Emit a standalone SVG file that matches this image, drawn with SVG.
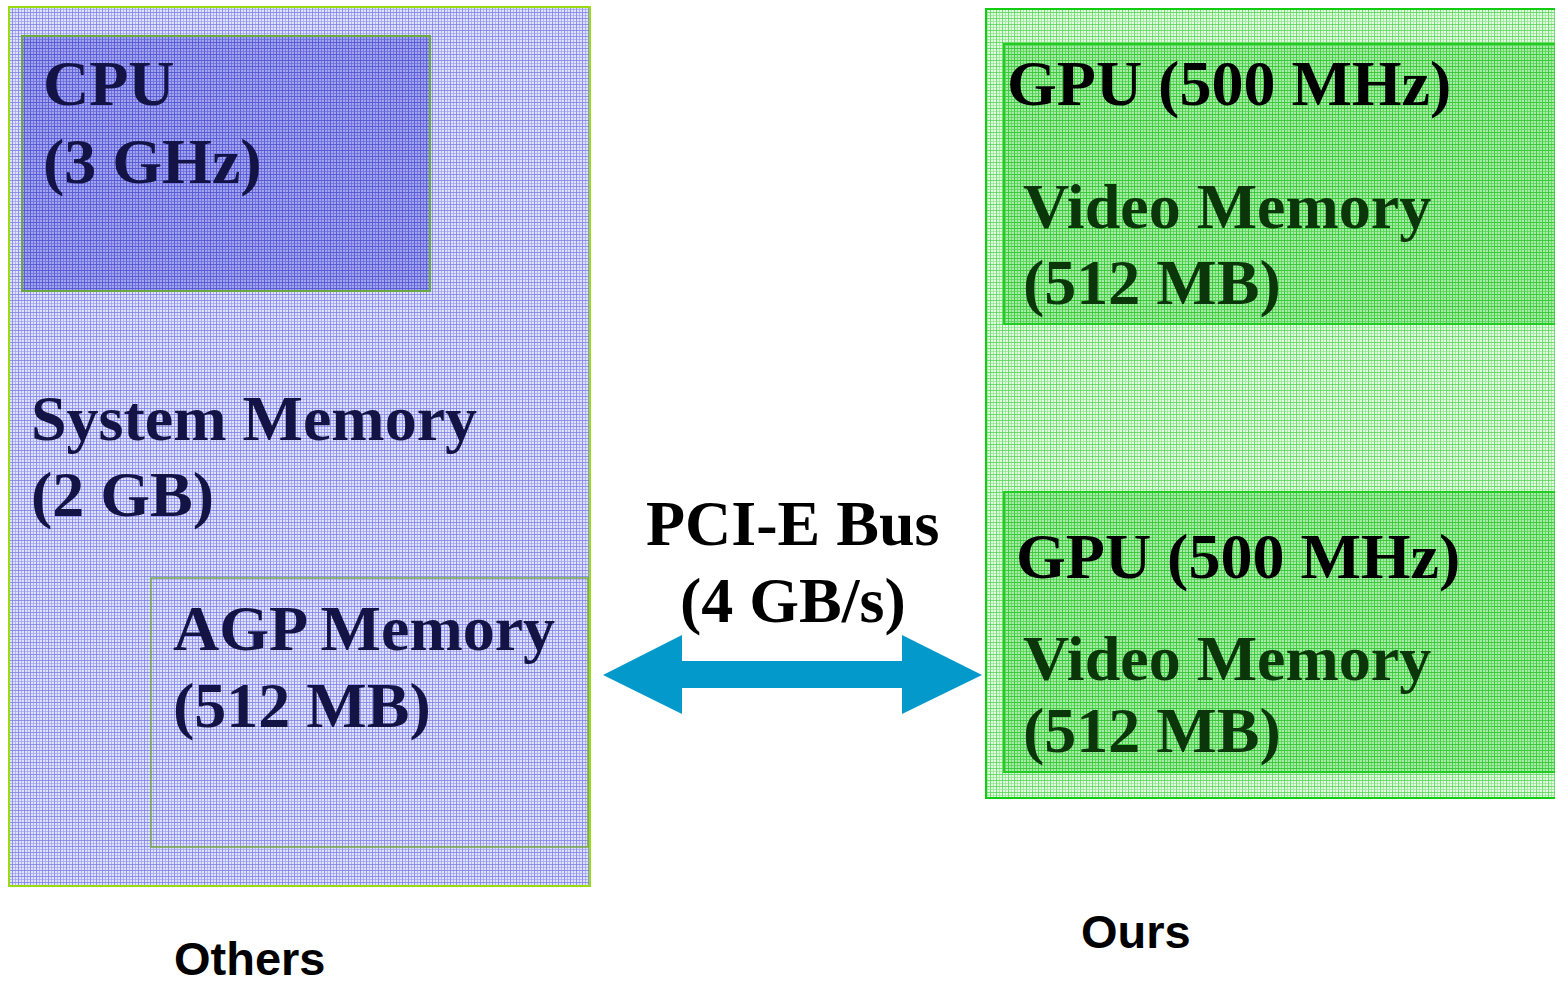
<svg xmlns="http://www.w3.org/2000/svg" width="1555" height="982" viewBox="0 0 1555 982">
  <style>
    .serif { font-family: "Liberation Serif", "Times New Roman", serif; font-weight: bold; font-size: 64px; }
    .sans { font-family: "Liberation Sans", Arial, sans-serif; font-weight: bold; font-size: 47px; fill: #000; }
    .navy { fill: #131345; }
    .dkgreen { fill: #0a360a; }
    .black { fill: #000; }
  </style>
  <defs>
    <!-- woven plaid fills -->
    <pattern id="blueLight" width="6" height="6" patternUnits="userSpaceOnUse">
      <rect width="6" height="6" fill="#e0e1fa"/>
      <rect x="0" y="0" width="1" height="6" fill="#7a7ee6" opacity="0.8"/>
      <rect x="3" y="0" width="1" height="6" fill="#9598ed" opacity="0.6"/>
      <rect x="0" y="0" width="6" height="1" fill="#7a7ee6" opacity="0.8"/>
      <rect x="0" y="3" width="6" height="1" fill="#9598ed" opacity="0.6"/>
    </pattern>
    <pattern id="blueDark" width="6" height="6" patternUnits="userSpaceOnUse">
      <rect width="6" height="6" fill="#a2a5ee"/>
      <rect x="0" y="0" width="1" height="6" fill="#5256d4" opacity="0.9"/>
      <rect x="3" y="0" width="1" height="6" fill="#686bdb" opacity="0.75"/>
      <rect x="0" y="0" width="6" height="1" fill="#5256d4" opacity="0.9"/>
      <rect x="0" y="3" width="6" height="1" fill="#686bdb" opacity="0.75"/>
    </pattern>
    <pattern id="greenLight" width="6" height="6" patternUnits="userSpaceOnUse">
      <rect width="6" height="6" fill="#e2f9e2"/>
      <rect x="0" y="0" width="1" height="6" fill="#55d655" opacity="0.8"/>
      <rect x="3" y="0" width="1" height="6" fill="#82e282" opacity="0.6"/>
      <rect x="0" y="0" width="6" height="1" fill="#55d655" opacity="0.8"/>
      <rect x="0" y="3" width="6" height="1" fill="#82e282" opacity="0.6"/>
    </pattern>
    <pattern id="greenDark" width="6" height="6" patternUnits="userSpaceOnUse">
      <rect width="6" height="6" fill="#a8eba8"/>
      <rect x="0" y="0" width="1" height="6" fill="#33c933" opacity="0.9"/>
      <rect x="3" y="0" width="1" height="6" fill="#52d452" opacity="0.75"/>
      <rect x="0" y="0" width="6" height="1" fill="#33c933" opacity="0.9"/>
      <rect x="0" y="3" width="6" height="1" fill="#52d452" opacity="0.75"/>
    </pattern>
  </defs>

  <rect width="1555" height="982" fill="#ffffff"/>

  <!-- host side -->
  <g id="system-memory">
    <rect x="9" y="7" width="581" height="879" fill="url(#blueLight)" stroke="#99dd11" stroke-width="2"/>
    <text class="serif navy" x="31" y="440">System Memory</text>
    <text class="serif navy" x="31" y="516">(2 GB)</text>
  </g>
  <g id="cpu">
    <rect x="22" y="36" width="408" height="255" fill="url(#blueDark)" stroke="#6aa840" stroke-width="2"/>
    <text class="serif navy" x="43" y="105">CPU</text>
    <text class="serif navy" x="43" y="183">(3 GHz)</text>
  </g>
  <g id="agp-memory">
    <rect x="151" y="578" width="437" height="269" fill="url(#blueLight)" stroke="#7aaa44" stroke-width="1.5"/>
    <text class="serif navy" x="173" y="650">AGP Memory</text>
    <text class="serif navy" x="173" y="727">(512 MB)</text>
  </g>
  <g id="label-others">
    <text class="sans" x="174" y="975">Others</text>
  </g>

  <!-- graphics side -->
  <g id="gpu-board">
    <rect x="986" y="9" width="600" height="789" fill="url(#greenLight)" stroke="#11cc11" stroke-width="2"/>
  </g>
  <g id="gpu-1">
    <rect x="1004" y="44" width="600" height="280" fill="url(#greenDark)" stroke="#22cc22" stroke-width="2"/>
    <text class="serif black" x="1007" y="105">GPU (500 MHz)</text>
    <text class="serif dkgreen" x="1023" y="228">Video Memory</text>
    <text class="serif dkgreen" x="1023" y="304">(512 MB)</text>
  </g>
  <g id="gpu-2">
    <rect x="1004" y="492" width="600" height="280" fill="url(#greenDark)" stroke="#22cc22" stroke-width="2"/>
    <text class="serif black" x="1016" y="578">GPU (500 MHz)</text>
    <text class="serif dkgreen" x="1023" y="680">Video Memory</text>
    <text class="serif dkgreen" x="1023" y="752">(512 MB)</text>
  </g>
  <g id="label-ours">
    <text class="sans" x="1081" y="948">Ours</text>
  </g>

  <!-- bus connector -->
  <g id="connectors">
    <path d="M603,675 L682,635 L682,661 L902,661 L902,635 L982,675 L902,714 L902,688 L682,688 L682,714 Z" fill="#0399cb"/>
    <text class="serif black" x="646" y="545">PCI-E Bus</text>
    <text class="serif black" x="680" y="622">(4 GB/s)</text>
  </g>
</svg>
